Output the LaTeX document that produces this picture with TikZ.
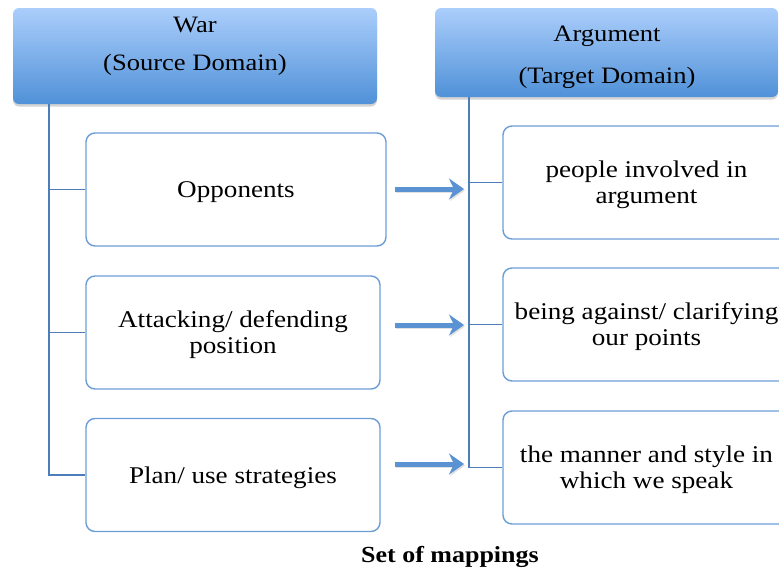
\documentclass[tikz,border=0pt]{standalone}
\usepackage{fontspec}
\setmainfont{Liberation Serif}[FakeStretch=1.13]
\usepackage{tikz}
\usetikzlibrary{arrows.meta, positioning, shadows}

\definecolor{headtop}{HTML}{ABCEFB}
\definecolor{headbot}{HTML}{5091D8}
\definecolor{boxline}{HTML}{6C9DD6}
\definecolor{trunkline}{HTML}{4E7EB9}
\definecolor{arrowblue}{HTML}{5A92D2}

\begin{document}
\begin{tikzpicture}[
    x=1pt, y=-1pt,
    head/.style={rounded corners=6pt, top color=headtop, bottom color=headbot, draw=none,
                 drop shadow={opacity=0.35, shadow xshift=0pt, shadow yshift=-2.5pt}},
    headtext/.style={align=center, inner sep=0pt},
    mapbox/.style={draw=boxline, line width=1.4pt, rounded corners=9pt, fill=white,
                   minimum height=113pt, align=center, inner sep=0pt, text depth=0pt,
                   font=\fontsize{24}{26}\selectfont},
    trunk/.style={draw=trunkline, line width=1.5pt},
    maparrow/.style={draw=arrowblue, line width=5pt,
                     -{Stealth[length=15pt, width=21pt, inset=5pt]},
                     preaction={draw=black!12, line width=5pt, transform canvas={shift={(1pt,-1.5pt)}},
                                -{Stealth[length=15pt, width=21pt, inset=5pt]}}}
]
\useasboundingbox (0,0) rectangle (779,568);

% headers
\node[head, minimum width=364pt, minimum height=96pt] (war) at (195,56) {};
\node[head, minimum width=343pt, minimum height=89pt] (arg) at (606.5,52.5) {};
\node[headtext, font=\fontsize{23.5}{38}\selectfont] (wartxt) at (195,46) {War\\(Source Domain)};
\node[headtext, font=\fontsize{23.5}{42}\selectfont] (argtxt) at (607,57.5) {Argument\\(Target Domain)};

% source side
\node[mapbox, minimum width=300pt] (opp) at (236,189.5) {Opponents};
\node[mapbox, minimum width=294pt] (att) at (233,332.5) {Attacking/ defending\\position};
\node[mapbox, minimum width=294pt] (plan) at (233,475) {Plan/ use strategies};

% target side
\node[mapbox, minimum width=287pt] (ppl) at (646.5,182.5) {people involved in\\argument};
\node[mapbox, minimum width=287pt] (clar) at (646.5,324.5) {being against/ clarifying\\our points};
\node[mapbox, minimum width=287pt] (style) at (646.5,467.5) {the manner and style in\\which we speak};

% tree lines
\coordinate (ltrunk) at (war.south -| 49,0);
\coordinate (rtrunk) at (arg.south -| 469,0);
\draw[trunk] (ltrunk) |- (opp.west);
\draw[trunk] (ltrunk) |- (att.west);
\draw[trunk] (ltrunk) |- (plan.west);
\draw[trunk] (rtrunk) |- (ppl.west);
\draw[trunk] (rtrunk) |- (clar.west);
\draw[trunk] (rtrunk) |- (style.west);

% mappings
\coordinate (m1s) at (395,189);
\coordinate (m1e) at (464,189);
\coordinate (m2s) at (395,325);
\coordinate (m2e) at (464,325);
\coordinate (m3s) at (395,464);
\coordinate (m3e) at (464,464);
\draw[maparrow] (m1s) -- (m1e);
\draw[maparrow] (m2s) -- (m2e);
\draw[maparrow] (m3s) -- (m3e);

\node[font=\fontsize{23}{26}\bfseries\selectfont] (cap) at (450,557) {Set of mappings};
\end{tikzpicture}
\end{document}
